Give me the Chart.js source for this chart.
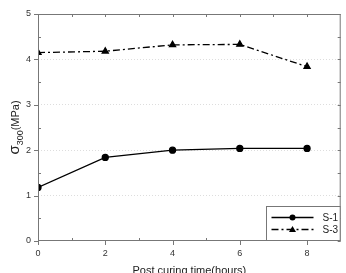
<!DOCTYPE html>
<html>
<head>
<meta charset="utf-8">
<script src="https://cdn.jsdelivr.net/npm/chart.js@4"></script>
<style>
  html, body { margin: 0; padding: 0; background: #fff; }
  #wrap { width: 346px; height: 273px; }
</style>
</head>
<body>
<div id="wrap"><canvas id="curingChart" width="346" height="273"></canvas></div>
<script>
// post curing time (hours)
const hours = [0, 2, 4, 6, 8];
const s1Values = [1.18, 1.84, 2.0, 2.04, 2.04];
const s3Values = [4.15, 4.18, 4.32, 4.33, 3.84];
const xTicks = [0, 2, 4, 6, 8];
const yTicks = [0, 1, 2, 3, 4, 5];

const FONT = 'Liberation Sans, Arial, sans-serif';

// frame, minor ticks, y title with subscript, legend box
const decorPlugin = {
    id: 'decor',
    afterDraw(chart) {
        const ctx = chart.ctx;
        const a = chart.chartArea;
        const xs = chart.scales.x, ys = chart.scales.y;
        ctx.save();
        ctx.strokeStyle = '#777';
        ctx.lineWidth = 1;
        ctx.strokeRect(a.left + 0.5, a.top + 0.5, a.right - a.left - 1, a.bottom - a.top - 1);

        ctx.beginPath();
        // major ticks outward
        xTicks.forEach(v => {
            const px = Math.round(xs.getPixelForValue(v)) + 0.5;
            ctx.moveTo(px, a.bottom); ctx.lineTo(px, a.bottom + 4);
            ctx.moveTo(px, a.top); ctx.lineTo(px, a.top + 3);
        });
        yTicks.forEach(v => {
            const py = Math.round(ys.getPixelForValue(v)) + 0.5;
            ctx.moveTo(a.left, py); ctx.lineTo(a.left - 4, py);
            ctx.moveTo(a.right, py); ctx.lineTo(a.right - 3, py);
        });
        // minor ticks inward
        [1, 3, 5, 7].forEach(v => {
            const px = Math.round(xs.getPixelForValue(v)) + 0.5;
            ctx.moveTo(px, a.bottom); ctx.lineTo(px, a.bottom - 3);
            ctx.moveTo(px, a.top); ctx.lineTo(px, a.top + 3);
        });
        [0.5, 1.5, 2.5, 3.5, 4.5].forEach(v => {
            const py = Math.round(ys.getPixelForValue(v)) + 0.5;
            ctx.moveTo(a.left, py); ctx.lineTo(a.left + 3, py);
            ctx.moveTo(a.right, py); ctx.lineTo(a.right - 3, py);
        });
        ctx.stroke();

        // y title: sigma with subscript 300
        ctx.fillStyle = '#222';
        ctx.translate(15, (a.top + a.bottom) / 2);
        ctx.rotate(-Math.PI / 2);
        ctx.textBaseline = 'alphabetic';
        const sig = 'σ';
        const sub = '300';
        const rest = '(MPa)';
        ctx.font = '15px ' + FONT;
        const w1 = ctx.measureText(sig).width;
        ctx.font = '9px ' + FONT;
        const w2 = ctx.measureText(sub).width;
        ctx.font = '11px ' + FONT;
        const w3 = ctx.measureText(rest).width;
        let x0 = -(w1 + w2 + w3) / 2;
        ctx.font = '15px ' + FONT;
        ctx.fillText(sig, x0, 4);
        ctx.font = '9px ' + FONT;
        ctx.fillText(sub, x0 + w1, 8);
        ctx.font = '11px ' + FONT;
        ctx.fillText(rest, x0 + w1 + w2, 4);
        ctx.restore();

        // legend box
        ctx.save();
        const bx = 266.5, by = 206.5, bw = a.right - 267, bh = a.bottom - 207;
        ctx.fillStyle = '#fff';
        ctx.fillRect(bx, by, bw, bh);
        ctx.strokeStyle = '#777';
        ctx.strokeRect(bx, by, bw, bh);
        chart.data.datasets.forEach((ds, i) => {
            const ly = by + 11 + i * 12;
            ctx.strokeStyle = '#000';
            ctx.lineWidth = 1.3;
            ctx.setLineDash(ds.borderDash || []);
            ctx.beginPath();
            ctx.moveTo(bx + 5, ly); ctx.lineTo(bx + 47, ly);
            ctx.stroke();
            ctx.setLineDash([]);
            ctx.fillStyle = '#000';
            ctx.beginPath();
            if (ds.pointStyle === 'triangle') {
                ctx.moveTo(bx + 26, ly - 3.5); ctx.lineTo(bx + 29.5, ly + 2.5); ctx.lineTo(bx + 22.5, ly + 2.5);
                ctx.closePath();
            } else {
                ctx.arc(bx + 26, ly, 3, 0, Math.PI * 2);
            }
            ctx.fill();
            ctx.font = '10px ' + FONT;
            ctx.fillStyle = '#222';
            ctx.textBaseline = 'middle';
            ctx.fillText(ds.label, bx + 56, ly + 0.5);
        });
        ctx.restore();
    }
};

new Chart(document.getElementById('curingChart').getContext('2d'), {
    type: 'line',
    data: {
        datasets: [{
            label: 'S-1',
            data: hours.map((h, i) => ({ x: h, y: s1Values[i] })),
            borderColor: '#000',
            backgroundColor: '#000',
            borderWidth: 1.3,
            pointStyle: 'circle',
            pointRadius: 3,
            tension: 0
        }, {
            label: 'S-3',
            data: hours.map((h, i) => ({ x: h, y: s3Values[i] })),
            borderColor: '#000',
            backgroundColor: '#000',
            borderWidth: 1.3,
            borderDash: [7, 3, 2, 3],
            pointStyle: 'triangle',
            pointRadius: 3.5,
            tension: 0
        }]
    },
    options: {
        responsive: false,
        animation: false,
        layout: { padding: { left: 0, right: 4, top: 14, bottom: 0 } },
        plugins: {
            legend: { display: false },
            tooltip: { enabled: false }
        },
        scales: {
            x: {
                type: 'linear',
                min: 0,
                max: 9,
                afterBuildTicks: s => { s.ticks = xTicks.map(v => ({ value: v })); },
                grid: { display: false, drawTicks: false },
                border: { display: false },
                ticks: { color: '#333', font: { family: FONT, size: 9 }, padding: 7 },
                title: {
                    display: true,
                    text: 'Post curing time(hours)',
                    color: '#222',
                    font: { family: FONT, size: 11 },
                    padding: { top: 0, bottom: -5 }
                },
                afterFit: s => { s.height = 32; }
            },
            y: {
                min: 0,
                max: 5,
                afterBuildTicks: s => { s.ticks = yTicks.map(v => ({ value: v })); },
                grid: {
                    color: c => (c.tick.value > 0 && c.tick.value < 5) ? '#ddd' : 'rgba(0,0,0,0)',
                    drawTicks: false
                },
                border: { display: false, dash: [1, 2] },
                ticks: { color: '#333', font: { family: FONT, size: 9 }, padding: 7 },
                afterFit: s => { s.width = 38; }
            }
        }
    },
    plugins: [decorPlugin]
});
</script>
</body>
</html>
